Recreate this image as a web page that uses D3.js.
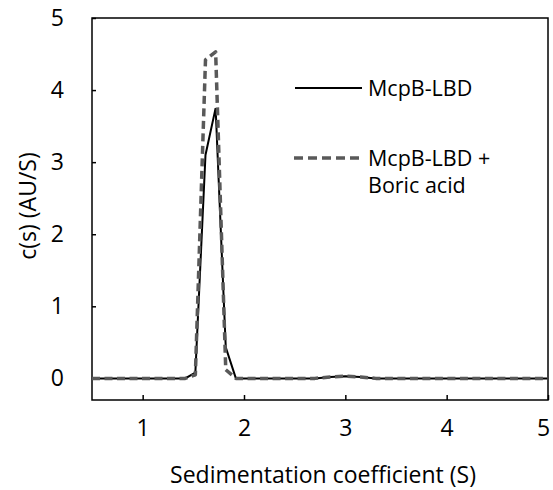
<!DOCTYPE html>
<html>
<head>
<meta charset="utf-8">
<script src="https://cdn.jsdelivr.net/npm/d3@7"></script>
<style>
  body { margin: 0; background: #fff; }
  text { font-family: "Open Sans", sans-serif; fill: #000; }
</style>
</head>
<body>
<div id="chart"></div>
<script>
"use strict";

// sedimentation coefficient (S)
var sValues = [0.5, 1.42, 1.52, 1.62, 1.72, 1.82, 1.92, 2.7, 2.85, 3.0, 3.15, 3.3, 5.0];
// c(s) for the protein alone
var apoValues = [0, 0, 0.08, 3.1, 3.75, 0.43, 0, 0, 0.02, 0.03, 0.02, 0, 0];
// c(s) with boric acid
var boricValues = [0, 0, 0.05, 4.42, 4.53, 0.12, 0, 0, 0.02, 0.03, 0.02, 0, 0];

var xTicks = [1, 2, 3, 4, 5];
var yTicks = [0, 1, 2, 3, 4, 5];
var seriesNames = ["McpB-LBD", "McpB-LBD +", "Boric acid"];

var W = 553, H = 490;
var margin = {top: 18, right: 5, bottom: 90, left: 92},
  width = W - margin.left - margin.right,
  height = H - margin.top - margin.bottom;

var fontSize = "23px";

var svg = d3.select("#chart")
  .append("svg")
  .attr("width", W)
  .attr("height", H);

var g = svg.append("g")
  .attr("transform", "translate(" + margin.left + "," + margin.top + ")");

var x = d3.scaleLinear().domain([0.5, 5]).range([0, width]);
var y = d3.scaleLinear().domain([-0.3, 5]).range([height, 0]);

// frame
g.append("rect")
  .attr("x", 0).attr("y", 0)
  .attr("width", width).attr("height", height)
  .attr("fill", "none")
  .attr("stroke", "#000")
  .attr("stroke-width", 1.5);

// x axis: ticks point inward
var xAxis = g.append("g")
  .attr("transform", "translate(0," + height + ")")
  .call(d3.axisBottom(x).tickValues(xTicks).tickSize(-5).tickPadding(20).tickFormat(d3.format("d")));
xAxis.select(".domain").remove();
xAxis.selectAll("line").attr("stroke-width", 1.5);
xAxis.selectAll("text").style("font-size", fontSize);
// last label sits at the page edge, pull it in a bit
xAxis.selectAll("text").filter(function(d) { return d === 5; })
  .attr("dx", -5);

// y axis
var yAxis = g.append("g")
  .call(d3.axisLeft(y).tickValues(yTicks).tickSize(-4).tickPadding(28).tickFormat(d3.format("d")));
yAxis.select(".domain").remove();
yAxis.selectAll("line").attr("stroke-width", 1.5);
yAxis.selectAll("text").style("font-size", fontSize);

// axis titles
svg.append("text")
  .attr("x", 323)
  .attr("y", 483)
  .attr("text-anchor", "middle")
  .style("font-size", fontSize)
  .text("Sedimentation coefficient (S)");

svg.append("text")
  .attr("transform", "translate(36,206) rotate(-90)")
  .attr("text-anchor", "middle")
  .style("font-size", fontSize)
  .text("c(s) (AU/S)");

var line = d3.line()
  .x(function(d) { return x(d[0]); })
  .y(function(d) { return y(d[1]); });

var apo = d3.zip(sValues, apoValues);
var boric = d3.zip(sValues, boricValues);

g.append("path")
  .datum(apo)
  .attr("d", line)
  .attr("fill", "none")
  .attr("stroke", "#000")
  .attr("stroke-width", 2);

g.append("path")
  .datum(boric)
  .attr("d", line)
  .attr("fill", "none")
  .attr("stroke", "#595959")
  .attr("stroke-width", 3.5)
  .attr("stroke-dasharray", "8,4.5")
  .attr("stroke-linejoin", "round");

// legend
var legendSize = "21.5px";
var legend = svg.append("g");
legend.append("line")
  .attr("x1", 295).attr("x2", 362)
  .attr("y1", 88).attr("y2", 88)
  .attr("stroke", "#000").attr("stroke-width", 2);
legend.append("text")
  .attr("x", 368).attr("y", 96)
  .style("font-size", legendSize)
  .text(seriesNames[0]);

legend.append("line")
  .attr("x1", 294).attr("x2", 364)
  .attr("y1", 158).attr("y2", 158)
  .attr("stroke", "#595959").attr("stroke-width", 3.5)
  .attr("stroke-dasharray", "9,5");
legend.append("text")
  .attr("x", 368).attr("y", 166)
  .style("font-size", legendSize)
  .text(seriesNames[1]);
legend.append("text")
  .attr("x", 368).attr("y", 193)
  .style("font-size", legendSize)
  .text(seriesNames[2]);
</script>
</body>
</html>
